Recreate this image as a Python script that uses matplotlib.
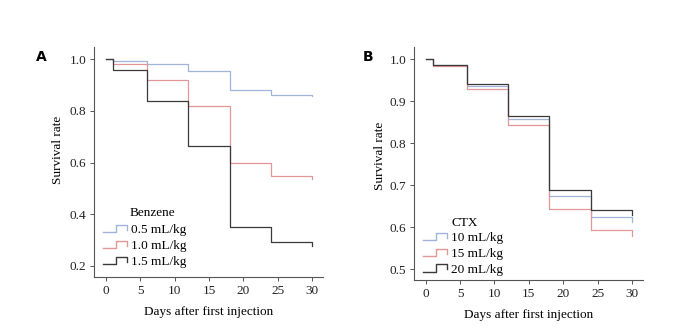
import matplotlib
matplotlib.use("Agg")
import matplotlib.pyplot as plt
from matplotlib.legend_handler import HandlerBase
from matplotlib.lines import Line2D

# time points of the steps (days)
days = [0, 1, 6, 12, 18, 24, 30]

# panel A: benzene groups
benzene_labels = ["0.5 mL/kg", "1.0 mL/kg", "1.5 mL/kg"]
benzene_05 = [1.0, 0.995, 0.98, 0.953, 0.883, 0.863, 0.858]
benzene_10 = [1.0, 0.98, 0.918, 0.82, 0.60, 0.547, 0.536]
benzene_15 = [1.0, 0.96, 0.84, 0.665, 0.351, 0.292, 0.278]

# panel B: CTX groups
ctx_labels = ["10 mL/kg", "15 mL/kg", "20 mL/kg"]
ctx_10 = [1.0, 0.985, 0.936, 0.857, 0.673, 0.623, 0.611]
ctx_15 = [1.0, 0.983, 0.928, 0.842, 0.643, 0.592, 0.579]
ctx_20 = [1.0, 0.985, 0.940, 0.865, 0.688, 0.641, 0.630]

colors = ["#9fb4d8", "#e39696", "#3a3a3a"]
plt.rcParams["font.family"] = ["Liberation Serif", "DejaVu Serif"]


class StepHandler(HandlerBase):
    def create_artists(self, legend, orig_handle, xdescent, ydescent,
                       width, height, fontsize, trans):
        x0 = -xdescent
        y0 = -ydescent
        xs = [x0, x0 + 0.55 * width, x0 + 0.55 * width, x0 + width, x0 + width]
        ys = [y0 + 0.1 * height, y0 + 0.1 * height, y0 + 0.9 * height,
              y0 + 0.9 * height, y0 + 0.35 * height]
        ln = Line2D(xs, ys, color=orig_handle.get_color(), lw=1.0, transform=trans)
        return [ln]


def panel(ax, series, labels, title, title_xy, leg_anchor, ylab_xy,
          ylim, yticks, ytl):
    handles = []
    for s, c, lab in zip(series, colors, labels):
        # last value is the small final drop at day 30
        h, = ax.step(days[:-1] + [days[-1], days[-1]], s[:-1] + [s[-2], s[-1]],
                     where="post", color=c, lw=0.9, label=lab)
        handles.append(h)
    ax.set_xlim(-1.75, 31.6)
    ax.set_ylim(*ylim)
    ax.set_xticks([0, 5, 10, 15, 20, 25, 30])
    ax.set_yticks(yticks)
    ax.set_yticklabels(ytl)
    for sp in ["top", "right"]:
        ax.spines[sp].set_visible(False)
    for sp in ["left", "bottom"]:
        ax.spines[sp].set_color("#555555")
        ax.spines[sp].set_linewidth(0.8)
    ax.tick_params(labelsize=9.5, length=3, width=0.7, color="#555555",
                   labelcolor="#222222", pad=2.5)
    ax.set_xlabel("Days after first injection", fontsize=9.5, labelpad=7)
    ax.set_ylabel("Survival rate", fontsize=9.5)
    ax.yaxis.set_label_coords(*ylab_xy)
    ax.legend(handles=handles, loc="lower left", bbox_to_anchor=leg_anchor,
              frameon=False, fontsize=9.5, handler_map={Line2D: StepHandler()},
              handlelength=1.8, handletextpad=0.3, labelspacing=0.27,
              borderaxespad=0.3)
    ax.text(title_xy[0], title_xy[1], title, fontsize=9.5, ha="left", va="center")


fig = plt.figure(figsize=(6.76, 3.26), dpi=100)
axA = fig.add_axes([0.139, 0.150, 0.339, 0.706])
axB = fig.add_axes([0.612, 0.141, 0.339, 0.715])

panel(axA, [benzene_05, benzene_10, benzene_15], benzene_labels, "Benzene",
      (3.5, 0.404), (0.0, 0.0), (-0.13, 0.552),
      (0.156, 1.048), [0.2, 0.4, 0.6, 0.8, 1.0], ["0.2", "0.4", "0.6", "0.8", "1.0"])
panel(axB, [ctx_10, ctx_15, ctx_20], ctx_labels, "CTX",
      (3.8, 0.609), (0.0, -0.021), (-0.12, 0.532),
      (0.474, 1.029), [0.5, 0.6, 0.7, 0.8, 0.9, 1.0], ["0.5", "0.6", "0.7", "0.8", "0.9", "1.0"])

fig.text(0.053, 0.813, "A", fontsize=10, fontweight="bold", family="DejaVu Sans")
fig.text(0.537, 0.813, "B", fontsize=10, fontweight="bold", family="DejaVu Sans")

fig.savefig("out.png", dpi=100)
